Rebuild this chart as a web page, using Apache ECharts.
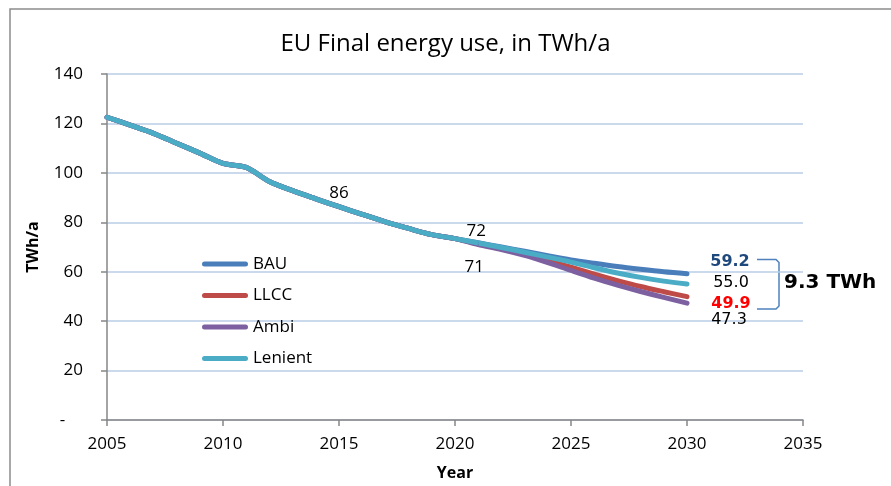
<!DOCTYPE html>
<html>
<head>
<meta charset="utf-8">
<script src="https://cdn.jsdelivr.net/npm/echarts@6/dist/echarts.min.js"></script>
<style>
  html, body { margin: 0; padding: 0; background: #fff; }
  #chart { width: 891px; height: 486px; }
</style>
</head>
<body>
<div id="chart"></div>
<script>
// years 2005 .. 2030
const years = [2005, 2006, 2007, 2008, 2009, 2010, 2011, 2012, 2013, 2014, 2015, 2016, 2017,
  2018, 2019, 2020, 2021, 2022, 2023, 2024, 2025, 2026, 2027, 2028, 2029, 2030];

// common history 2005-2020 (all scenarios identical)
const history = [122.5, 119.3, 116.0, 112.0, 108.0, 103.8, 102.2, 96.5, 92.8, 89.5, 86.3,
  83.2, 80.2, 77.5, 75.0, 73.4];

// scenario paths 2021-2030
const bauTail = [71.7, 70.0, 68.3, 66.5, 64.8, 63.4, 62.1, 61.0, 60.0, 59.2];
const llccTail = [71.3, 69.3, 67.0, 64.5, 61.8, 59.0, 56.4, 54.0, 51.9, 49.9];
const ambiTail = [71.0, 69.0, 66.6, 63.7, 60.5, 57.4, 54.6, 52.0, 49.6, 47.3];
const lenientTail = [71.6, 69.8, 67.9, 65.9, 63.9, 61.6, 59.5, 57.7, 56.2, 55.0];

const seriesNames = ['BAU', 'LLCC', 'Ambi', 'Lenient'];
const seriesColors = ['#4A7EBB', '#BE4B48', '#7D60A0', '#4BACC6'];

const FONT = "'Open Sans', 'Liberation Sans', sans-serif";
const VFONT = "'DejaVu Sans', Verdana, sans-serif";

// labels shown on single points: {year: label style}
const plainLabel = (offset) => ({
  show: true, position: 'inside', offset: offset,
  color: '#000', fontSize: 17, fontFamily: FONT,
  formatter: p => String(Math.round(p.value[1]))
});
const endLabel = (offset, color, bold) => ({
  show: true, position: 'inside', offset: offset,
  color: color, fontSize: 16, fontFamily: VFONT, fontWeight: bold ? 'bold' : 'normal',
  formatter: p => p.value[1].toFixed(1)
});

const pointLabels = {
  BAU: { 2021: plainLabel([-2, -12]), 2030: endLabel([43, -12], '#1F497D', true) },
  LLCC: { 2030: endLabel([44, 7], '#FF0000', true) },
  Ambi: { 2021: plainLabel([-4, 23]), 2030: endLabel([42, 17], '#000', false) },
  Lenient: { 2015: plainLabel([0, -14]), 2030: endLabel([44, -1], '#000', false) }
};

function buildSeries(name, tail, color) {
  const values = history.concat(tail);
  const labels = pointLabels[name] || {};
  return {
    name: name,
    type: 'line',
    smooth: 0.3,
    symbol: 'none',
    showSymbol: true,
    lineStyle: { width: 5, color: color, cap: 'round', join: 'round' },
    itemStyle: { color: color },
    emphasis: { disabled: true },
    data: values.map((v, i) => {
      const item = { value: [years[i], v] };
      if (labels[years[i]]) {
        // tiny hidden marker so the label has an anchor
        item.symbol = 'circle';
        item.symbolSize = 1;
        item.label = labels[years[i]];
      }
      return item;
    })
  };
}

const gap = (bauTail[bauTail.length - 1] - llccTail[llccTail.length - 1]).toFixed(1);

const chart = echarts.init(document.getElementById('chart'), null, { renderer: 'canvas' });

chart.setOption({
  animation: false,
  backgroundColor: '#fff',
  title: {
    text: 'EU Final energy use, in TWh/a',
    left: 'center',
    top: 27,
    textStyle: { fontFamily: FONT, fontWeight: 'normal', fontSize: 24, color: '#000' }
  },
  grid: { left: 107, right: 88, top: 74, bottom: 64 },
  legend: {
    orient: 'vertical',
    left: 197,
    top: 250,
    itemWidth: 46,
    itemHeight: 5,
    itemGap: 13.5,
    icon: 'path://M2.5,0H43.5A2.5,2.5,0,0,1,43.5,5H2.5A2.5,2.5,0,0,1,2.5,0Z',
    textStyle: { fontFamily: FONT, fontSize: 17, lineHeight: 18, color: '#000' },
    data: seriesNames
  },
  xAxis: {
    type: 'value',
    min: 2005,
    max: 2035,
    interval: 5,
    name: 'Year',
    nameLocation: 'middle',
    nameGap: 45,
    nameTextStyle: { fontFamily: FONT, fontWeight: 'bold', fontSize: 16, color: '#000' },
    axisLine: { lineStyle: { color: '#868686', width: 1.5 } },
    axisTick: { show: true, length: 6, lineStyle: { color: '#868686', width: 1.5 } },
    axisLabel: { formatter: v => String(v), margin: 16, fontFamily: FONT, fontSize: 17, color: '#000' },
    splitLine: { show: false }
  },
  yAxis: {
    type: 'value',
    min: 0,
    max: 140,
    interval: 20,
    name: 'TWh/a',
    nameLocation: 'middle',
    nameGap: 66,
    nameTextStyle: { fontFamily: FONT, fontWeight: 'bold', fontSize: 16, color: '#000' },
    axisLine: { show: true, lineStyle: { color: '#868686', width: 1.5 } },
    axisTick: { show: true, length: 6, lineStyle: { color: '#868686', width: 1.5 } },
    axisLabel: { formatter: v => (v === 0 ? '-    ' : String(v)), margin: 24, fontFamily: FONT, fontSize: 17, color: '#000' },
    splitLine: { show: true, lineStyle: { color: '#B9CDE5', width: 1.5 } }
  },
  graphic: [
    {
      type: 'rect', silent: true, z: -1,
      shape: { x: 10, y: 9, width: 900, height: 500 },
      style: { fill: 'none', stroke: '#8C8C8C', lineWidth: 1.5 }
    },
    {
      type: 'polyline', silent: true,
      shape: { points: [[757, 259.5], [776, 259.5], [779, 262.5], [779, 306], [776, 309], [757, 309]] },
      style: { fill: 'none', stroke: '#4F81BD', lineWidth: 1.5 }
    },
    {
      type: 'text', silent: true,
      left: 784, top: 273,
      style: { text: gap + ' TWh', fontFamily: VFONT, fontWeight: 'bold', fontSize: 20, fill: '#000' }
    }
  ],
  series: seriesNames.map((n, i) => buildSeries(n, [bauTail, llccTail, ambiTail, lenientTail][i], seriesColors[i]))
});
</script>
</body>
</html>
